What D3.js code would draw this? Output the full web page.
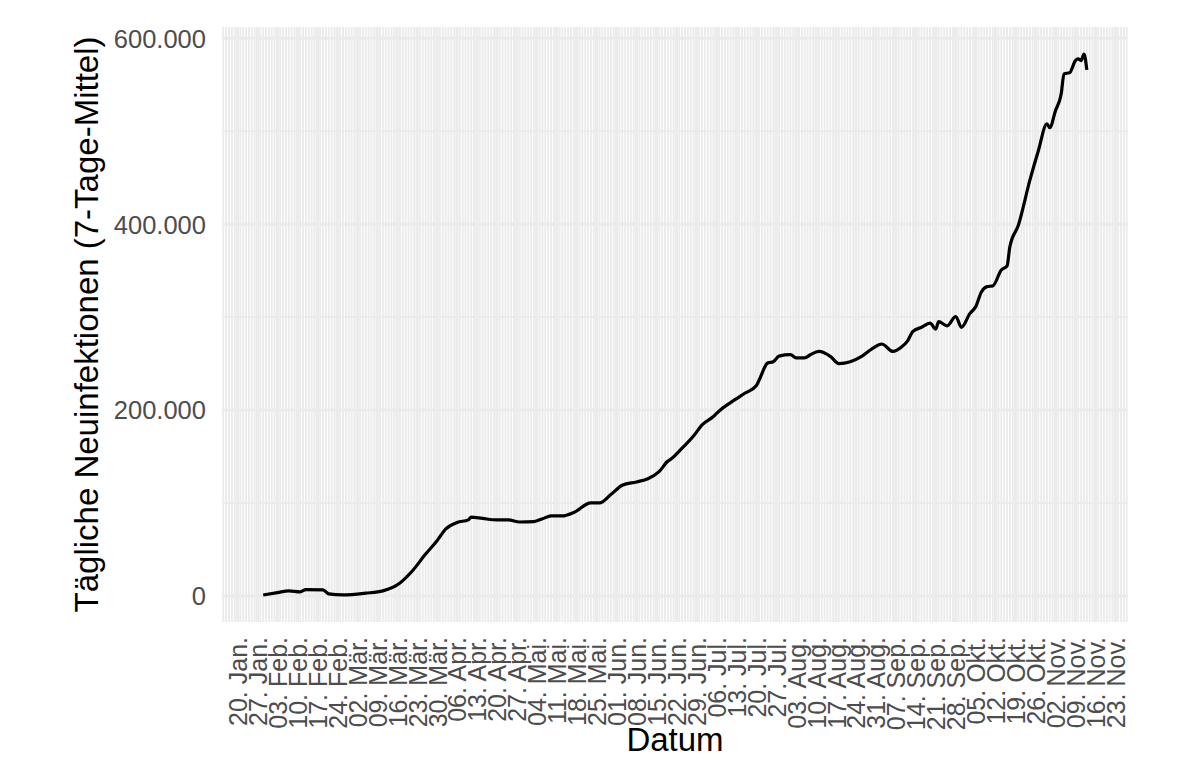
<!DOCTYPE html>
<html>
<head>
<meta charset="utf-8">
<script src="https://cdn.jsdelivr.net/npm/d3@7"></script>
<style>
  body { margin: 0; background: #fff; }
  text { font-family: "Liberation Sans", Arial, Helvetica, sans-serif; }
</style>
</head>
<body>
<div id="chart"></div>
<script>
// daily new cases, 7 day mean
var dates = ["2020-01-29","2020-02-03","2020-02-07","2020-02-11","2020-02-13","2020-02-19","2020-02-21",
  "2020-02-26","2020-03-05","2020-03-11","2020-03-17","2020-03-21","2020-03-26","2020-03-30","2020-04-02",
  "2020-04-06","2020-04-10","2020-04-11","2020-04-15","2020-04-20","2020-04-24","2020-04-28","2020-05-03",
  "2020-05-06","2020-05-09","2020-05-13","2020-05-17","2020-05-23","2020-05-26","2020-05-30","2020-06-03",
  "2020-06-08","2020-06-12","2020-06-16","2020-06-19","2020-06-20","2020-06-24","2020-06-28","2020-07-01",
  "2020-07-05","2020-07-07","2020-07-11","2020-07-16","2020-07-20","2020-07-21","2020-07-24","2020-07-26",
  "2020-07-28","2020-08-01","2020-08-03","2020-08-06","2020-08-08","2020-08-11","2020-08-15","2020-08-18",
  "2020-08-22","2020-08-26","2020-08-30","2020-09-02","2020-09-06","2020-09-09","2020-09-11","2020-09-13",
  "2020-09-16","2020-09-19","2020-09-21","2020-09-22","2020-09-25","2020-09-28","2020-09-30","2020-10-03",
  "2020-10-05","2020-10-07","2020-10-09","2020-10-11","2020-10-14","2020-10-16","2020-10-17","2020-10-20",
  "2020-10-24","2020-10-27","2020-10-30","2020-10-31","2020-11-02","2020-11-04","2020-11-05","2020-11-07",
  "2020-11-09","2020-11-10","2020-11-11","2020-11-12","2020-11-13"];
var cases = [1000,3500,5400,4300,6800,6400,2100,
  1000,2900,5400,13900,25700,45000,59300,71800,
  79000,81800,84700,83300,81800,81800,79500,80000,
  83000,86000,86000,89700,100000,100000,109000,119000,
  122600,126000,134000,145000,147000,159000,172000,184000,
  193000,199000,208000,218000,226000,232000,250600,252000,
  258000,259500,256000,256000,259500,263000,257700,250000,
  252000,257700,266700,271000,263000,267800,273800,284500,
  289000,293500,287000,295000,290600,300600,289000,304000,
  311000,327000,332800,333500,350700,355000,375700,399000,
  447000,479000,508000,503700,522000,540000,561600,563000,
  576000,577700,576000,583000,566000];
var yTicks = [0, 200000, 400000, 600000];
var yMinor = [100000, 300000, 500000];
var monthsDe = ["Jan","Feb","Mär","Apr","Mai","Jun","Jul","Aug","Sep","Okt","Nov","Dez"];

var width = 1200, height = 783;
var margin = {top: 27, right: 72, bottom: 161, left: 222};
var w = width - margin.left - margin.right;
var h = height - margin.top - margin.bottom;

var parse = d3.timeParse("%Y-%m-%d");
var data = dates.map(function(d, i) { return {date: parse(d), value: cases[i]}; });

var deNum = d3.formatLocale({decimal: ",", thousands: ".", grouping: [3], currency: ["", " €"]});
var deTime = d3.timeFormatLocale({
  dateTime: "%A, der %e. %B %Y, %X", date: "%d.%m.%Y", time: "%H:%M:%S",
  periods: ["AM", "PM"],
  days: ["Sonntag","Montag","Dienstag","Mittwoch","Donnerstag","Freitag","Samstag"],
  shortDays: ["So","Mo","Di","Mi","Do","Fr","Sa"],
  months: ["Januar","Februar","März","April","Mai","Juni","Juli","August","September","Oktober","November","Dezember"],
  shortMonths: monthsDe
});
var fmtY = deNum.format(",d");
var fmtX = deTime.format("%d. %b.");

// ggplot style 5% expansion
var xExt = d3.extent(data, function(d) { return d.date; });
var xPad = (xExt[1] - xExt[0]) * 0.05;
var x = d3.scaleTime()
  .domain([new Date(+xExt[0] - xPad), new Date(+xExt[1] + xPad)])
  .range([0, w]);
var yExt = d3.extent(cases);
var yPad = (yExt[1] - yExt[0]) * 0.05;
var y = d3.scaleLinear()
  .domain([yExt[0] - yPad, yExt[1] + yPad])
  .range([h, 0]);

var svg = d3.select("#chart").append("svg")
  .attr("width", width)
  .attr("height", height)
  .append("g")
  .attr("transform", "translate(" + margin.left + "," + margin.top + ")");

var grid = svg.append("g").attr("class", "grid");
// minor grid: every day, and between y majors
grid.selectAll(".xminor")
  .data(d3.timeDay.range(x.domain()[0], x.domain()[1]))
  .enter().append("line")
  .attr("x1", function(d) { return x(d); })
  .attr("x2", function(d) { return x(d); })
  .attr("y1", 0).attr("y2", h)
  .attr("stroke", "#ebebeb").attr("stroke-width", 1.9);
grid.selectAll(".yminor")
  .data(yMinor).enter().append("line")
  .attr("x1", 0).attr("x2", w)
  .attr("y1", function(d) { return y(d); })
  .attr("y2", function(d) { return y(d); })
  .attr("stroke", "#ebebeb").attr("stroke-width", 1.9);

var weeks = x.ticks(d3.timeMonday.every(1));
grid.selectAll(".xmajor")
  .data(weeks).enter().append("line")
  .attr("x1", function(d) { return x(d); })
  .attr("x2", function(d) { return x(d); })
  .attr("y1", 0).attr("y2", h)
  .attr("stroke", "#ebebeb").attr("stroke-width", 3.2);
grid.selectAll(".ymajor")
  .data(yTicks).enter().append("line")
  .attr("x1", 0).attr("x2", w)
  .attr("y1", function(d) { return y(d); })
  .attr("y2", function(d) { return y(d); })
  .attr("stroke", "#ebebeb").attr("stroke-width", 3.2);

// axes
var xAxis = svg.append("g")
  .attr("transform", "translate(0," + h + ")")
  .call(d3.axisBottom(x).tickValues(weeks).tickFormat(fmtX).tickSize(0).tickPadding(0));
xAxis.select(".domain").remove();
xAxis.selectAll("text")
  .attr("fill", "#4d4d4d")
  .style("font-size", "25px")
  .attr("text-anchor", "end")
  .attr("dy", null)
  .attr("dominant-baseline", "central")
  .attr("transform", "translate(0,15) rotate(-90)");

var yAxis = svg.append("g")
  .call(d3.axisLeft(y).tickValues(yTicks).tickFormat(fmtY).tickSize(0).tickPadding(16));
yAxis.select(".domain").remove();
yAxis.selectAll("text")
  .attr("fill", "#4d4d4d")
  .style("font-size", "25.5px")
  .attr("dy", "0.35em");

// line
var line = d3.line()
  .curve(d3.curveMonotoneX)
  .x(function(d) { return x(d.date); })
  .y(function(d) { return y(d.value); });
svg.append("path")
  .datum(data)
  .attr("d", line)
  .attr("fill", "none")
  .attr("stroke", "#000")
  .attr("stroke-width", 3.2)
  .attr("stroke-linejoin", "round");

// titles
svg.append("text")
  .attr("x", w / 2)
  .attr("y", h + 129)
  .attr("text-anchor", "middle")
  .style("font-size", "33px")
  .text("Datum");
svg.append("text")
  .attr("transform", "translate(" + (-124) + "," + (h / 2) + ") rotate(-90)")
  .attr("text-anchor", "middle")
  .style("font-size", "33px")
  .text("Tägliche Neuinfektionen (7-Tage-Mittel)");
</script>
</body>
</html>
